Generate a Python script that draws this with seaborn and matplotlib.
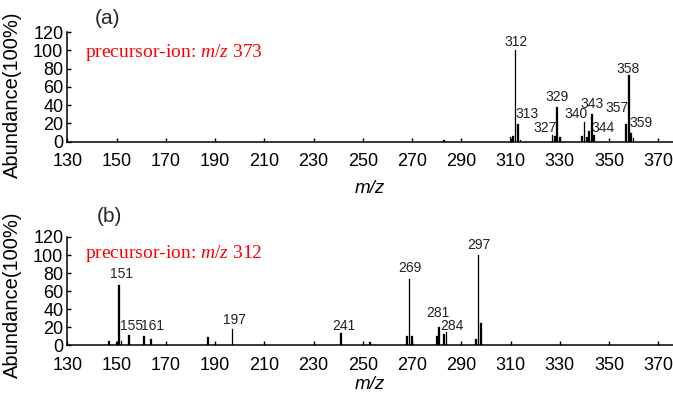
import seaborn as sns
import matplotlib
matplotlib.use("Agg")
import matplotlib.pyplot as plt

# panel (a): precursor m/z 373
mz_a = [283, 310, 311, 312, 313, 314, 327, 328, 329, 330, 339, 340, 341, 342, 343, 344, 357, 358, 359, 360]
ab_a = [2, 5, 6, 100, 19, 2, 7, 6, 38, 5, 6, 22, 5, 12, 30, 7, 19, 73, 9, 4]
peaks_a = ['312', '313', '327', '329', '340', '343', '344', '357', '358', '359']

# panel (b): precursor m/z 312
mz_b = [147, 150, 151, 152, 155, 161, 164, 187, 197, 241, 253, 268, 269, 270, 280, 281, 283, 284, 296, 297, 298]
ab_b = [5, 4, 67, 5, 12, 11, 7, 9, 18, 14, 4, 11, 74, 11, 11, 20, 13, 15, 7, 100, 25]
peaks_b = ['151', '155', '161', '197', '241', '269', '281', '284', '297']

xticks = list(range(130, 371, 20))
yticks = list(range(0, 121, 20))

# where the peak labels sit (data coords)
lab_pos_a = [(312.1, 109.5), (316.5, 30), (323.9, 14.6), (328.7, 49.3), (336.7, 30.3),
             (343.1, 40.9), (347.6, 15.3), (353.1, 36.5), (357.9, 79.2), (363.1, 20.8)]
lab_pos_b = [(151.9, 79), (156, 21), (164.5, 21), (198, 28.3), (242.1, 22),
             (269, 86), (280.6, 35.7), (286.4, 21), (297, 111)]

sns.set_theme(style="ticks")
plt.rcParams['font.family'] = ['Liberation Sans', 'DejaVu Sans']
plt.rcParams['mathtext.fontset'] = 'custom'
plt.rcParams['mathtext.rm'] = 'Liberation Serif'
plt.rcParams['mathtext.it'] = 'Liberation Serif:italic'

fig = plt.figure(figsize=(6.73, 3.93), dpi=100)
ax_a = fig.add_axes([0.1002, 0.6394, 0.8998, 0.2791])
ax_b = fig.add_axes([0.1002, 0.1209, 0.8998, 0.2761])


def draw_panel(ax, mz, ab, peaks, pos, precursor, tag, tag_xy, red_y, ylab_y, xpad):
    sns.barplot(x=mz, y=ab, ax=ax, native_scale=True, color='black',
                width=0.7, saturation=1, errorbar=None,
                edgecolor='black', linewidth=0.2)
    ax.set_xlim(130, 376)
    ax.set_ylim(0, 120)
    ax.set_xticks(xticks)
    ax.set_yticks(yticks)
    sns.despine(ax=ax)
    for s in ['left', 'bottom']:
        ax.spines[s].set_linewidth(1.1)
        ax.spines[s].set_color('black')
    ax.tick_params(axis='both', direction='in', length=3, width=1,
                   labelsize=13, colors='black')
    ax.tick_params(axis='x', pad=8)
    ax.tick_params(axis='y', pad=3)
    ax.set_ylabel('Abundance(100%)', fontsize=14.5, color='black')
    ax.yaxis.set_label_coords(-0.075, ylab_y)
    ax.set_xlabel('m/z', fontsize=13.5, style='italic', color='black', labelpad=xpad)
    for txt, (x, y) in zip(peaks, pos):
        ax.text(x, y, txt, ha='center', va='center', fontsize=10, color='#222222')
    ax.text(137.2, red_y, 'precursor-ion: $m/z$ ' + precursor, color='red',
            fontsize=14, family='Liberation Serif', ha='left', va='center')
    fig.text(tag_xy[0], tag_xy[1], tag, fontsize=15, ha='center', va='center')


draw_panel(ax_a, mz_a, ab_a, peaks_a, lab_pos_a, '373', '(a)', (0.159, 0.952), 98, 0.43, 7)
draw_panel(ax_b, mz_b, ab_b, peaks_b, lab_pos_b, '312', '(b)', (0.163, 0.450), 102, 0.47, 2)

fig.savefig('out.png', dpi=100)
